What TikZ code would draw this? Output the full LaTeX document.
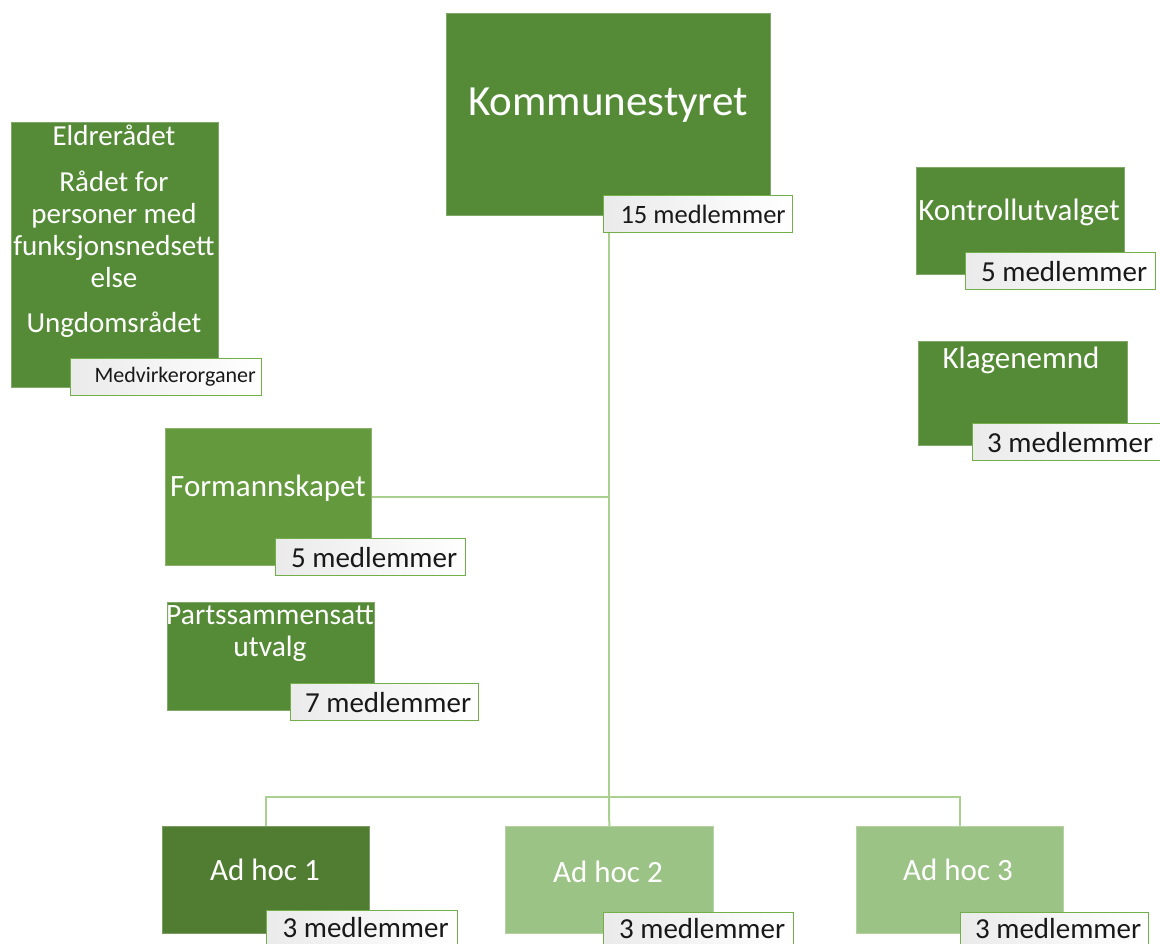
\documentclass[tikz,border=0pt]{standalone}
\usepackage{fontspec}
\setmainfont{Carlito}
\definecolor{gmain}{HTML}{558B37}
\definecolor{gform}{HTML}{64993D}
\definecolor{gdark}{HTML}{507D32}
\definecolor{glight}{HTML}{9CC386}
\definecolor{gline}{HTML}{A9D08E}
\definecolor{gedge}{HTML}{72AE4A}
\tikzset{
  box/.style={fill=#1, draw=#1!75!white, line width=0.6pt, anchor=north west, inner sep=0pt},
  ttl/.style={text=white, inner sep=0pt, align=center, font=\fontsize{31}{32}\selectfont},
  lab/.style={draw=gedge, line width=1.2pt, left color=black!8, right color=white, anchor=north west,
              inner sep=0pt, minimum height=37pt, font=\fontsize{29}{30}\selectfont, text=black!90},
  conn/.style={draw=gline, line width=2pt},
}
\begin{document}
\begin{tikzpicture}[x=1pt,y=-1pt]
\useasboundingbox (0,0) rectangle (1160,944);
\clip (0,0) rectangle (1160,944);
% boxes
\node[box=gmain, minimum width=324pt, minimum height=202pt] (k) at (446,13) {};
\node[box=gmain, minimum width=207pt, minimum height=265pt] (e) at (11,122) {};
\node[box=gform, minimum width=206pt, minimum height=137pt] (f) at (165,428) {};
\node[box=gmain, minimum width=207pt, minimum height=108pt] (p) at (167,602) {};
\node[box=gmain, minimum width=208pt, minimum height=107pt] (ko) at (916,167) {};
\node[box=gmain, minimum width=209pt, minimum height=104pt] (kl) at (918,341) {};
\node[box=gdark, minimum width=207pt, minimum height=107pt] (a1) at (162,826) {};
\node[box=glight, minimum width=208pt, minimum height=107pt] (a2) at (505,826) {};
\node[box=glight, minimum width=207pt, minimum height=107pt] (a3) at (856,826) {};
% connectors
\coordinate (j0) at (609,797);
\draw[conn] (k.south -| j0) -- (j0);
\draw[conn] (f.east) -- (f.east -| j0);
\draw[conn] (a1.north) |- (j0) -| (a3.north);
\draw[conn] (j0) -- (a2.north);
% titles
\node[ttl, font=\fontsize{43}{44}\selectfont] (tk) at (608,105) {Kommunestyret};
\node[ttl, font=\fontsize{29}{32}\selectfont] (te) at (114,231) {Eldrerådet\\[14pt]Rådet for\\personer med\\funksjonsnedsett\\else\\[13pt]Ungdomsrådet};
\node[ttl] (tf) at (268,488) {Formannskapet};
\node[ttl, font=\fontsize{29.5}{32}\selectfont] (tp) at (270,634) {Partssammensatt\\utvalg};
\node[ttl] (tko) at (1019,212) {Kontrollutvalget};
\node[ttl] (tkl) at (1021,360) {Klagenemnd};
\node[ttl] (ta1) at (265,870) {Ad hoc 1};
\node[ttl] (ta2) at (608,872) {Ad hoc 2};
\node[ttl] (ta3) at (958,870) {Ad hoc 3};
% labels
\node[lab, minimum width=189pt, font=\fontsize{26.5}{28}\selectfont] (lk) at (603,195) {\hspace{10pt}15 medlemmer};
\node[lab, minimum width=191pt, font=\fontsize{22}{24}\selectfont] (le) at (70,358) {\hspace{18pt}Medvirkerorganer};
\node[lab, minimum width=190pt] (lf) at (275,538) {\hspace{7pt}5 medlemmer};
\node[lab, minimum width=188pt] (lp) at (290,683) {\hspace{7pt}7 medlemmer};
\node[lab, minimum width=190pt] (lko) at (965,252) {\hspace{7pt}5 medlemmer};
\node[lab, minimum width=188pt] (lkl) at (972,423) {\hspace{7pt}3 medlemmer};
\node[lab, minimum width=191pt, minimum height=34pt] (la1) at (266,910) {\hspace{7pt}3 medlemmer};
\node[lab, minimum width=190pt, minimum height=32pt] (la2) at (603,912) {\hspace{7pt}3 medlemmer};
\node[lab, minimum width=188pt, minimum height=32pt] (la3) at (960,912) {\hspace{7pt}3 medlemmer};
\end{tikzpicture}
\end{document}
